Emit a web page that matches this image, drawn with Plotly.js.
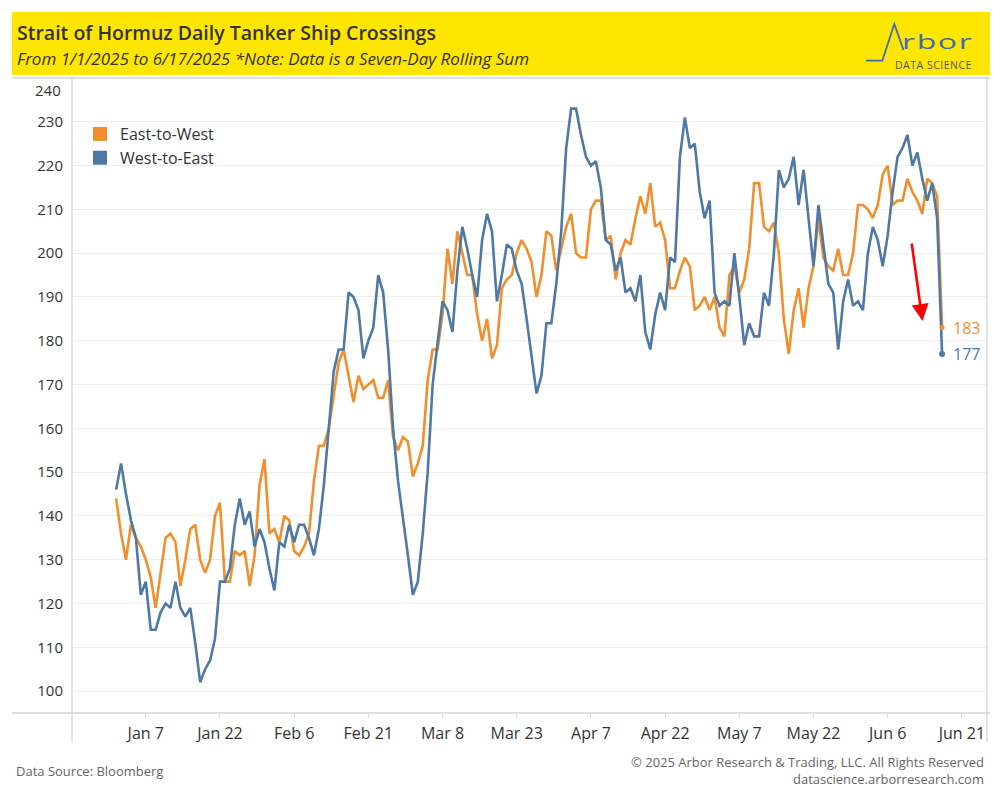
<!DOCTYPE html>
<html>
<head>
<meta charset="utf-8">
<script src="https://cdn.plot.ly/plotly-3.0.1.min.js"></script>
<style>
  html, body { margin: 0; padding: 0; background: #ffffff; }
  #chart { width: 1000px; height: 800px; }
</style>
</head>
<body>
<div id="chart"></div>
<script>
// ---------------- DATA ----------------
const startDate = '2025-01-01';
const seriesNames = ['East-to-West', 'West-to-East'];
const eastToWest = [
  144,136,130,138,135,133,130,126,119,127,
  135,136,134,124,130,137,138,130,127,130,
  140,143,125,125,132,131,132,124,131,147,
  153,136,137,134,140,139,132,131,133,136,
  148,156,156,160,167,175,178,172,166,172,
  169,170,171,167,167,171,158,155,158,157,
  149,152,156,171,178,178,186,201,193,205,
  200,195,195,186,180,185,176,179,192,194,
  195,200,203,201,198,190,195,205,204,196,
  201,206,209,200,199,199,210,212,212,203,
  204,194,200,203,202,208,213,209,216,206,
  207,203,192,192,196,199,197,187,188,190,
  187,190,183,181,195,197,191,194,201,216,
  216,206,205,207,200,185,177,187,192,183,
  192,197,208,199,197,196,201,195,195,200,
  211,211,210,208,211,218,220,211,212,212,
  217,214,212,209,217,216,213,183
];
const westToEast = [
  146,152,145,139,135,122,125,114,114,118,
  120,119,125,119,117,119,111,102,105,107,
  112,125,125,128,138,144,138,141,133,137,
  134,128,123,134,133,138,134,138,138,135,
  131,137,147,161,173,178,178,191,190,187,
  176,180,183,195,191,178,160,148,140,131,
  122,125,136,150,170,179,189,187,182,196,
  206,201,195,190,203,209,205,189,195,202,
  201,196,193,185,177,168,172,184,184,193,
  205,224,233,233,227,222,220,221,215,203,
  202,196,199,191,192,189,195,182,178,186,
  191,187,199,198,222,231,224,225,214,208,
  212,191,188,189,188,200,190,179,184,181,
  181,191,188,200,219,215,217,222,211,219,
  208,197,211,202,193,191,178,189,194,188,
  189,187,200,206,203,197,204,214,222,224,
  227,220,223,217,212,216,208,177
];
const xTickDates = ['2025-01-07','2025-01-22','2025-02-06','2025-02-21','2025-03-08','2025-03-23',
                    '2025-04-07','2025-04-22','2025-05-07','2025-05-22','2025-06-06','2025-06-21'];
const xTickLabels = ['Jan 7','Jan 22','Feb 6','Feb 21','Mar 8','Mar 23','Apr 7','Apr 22','May 7','May 22','Jun 6','Jun 21'];
const yTicks = [100,110,120,130,140,150,160,170,180,190,200,210,220,230,240];

// ---------------- STYLE ----------------
const ORANGE = '#F28E2B';
const BLUE = '#4E79A7';
const FONT = 'Open Sans, Noto Sans, sans-serif';
const W = 1000, H = 800;
const M = { l: 72, r: 13, t: 78, b: 87 };
const PW = W - M.l - M.r, PH = H - M.t - M.b;
const X = px => (px - M.l) / PW;      // pixel -> paper x
const Y = py => (H - M.b - py) / PH;  // pixel -> paper y

// dates for each daily value
function buildDates(n) {
  const out = [];
  const d0 = new Date(startDate + 'T00:00:00Z');
  for (let i = 0; i < n; i++) {
    const d = new Date(d0.getTime() + i * 86400000);
    out.push(d.toISOString().slice(0, 10));
  }
  return out;
}
const dates = buildDates(eastToWest.length);
const last = dates.length - 1;

const traces = [
  { x: dates, y: eastToWest, type: 'scatter', mode: 'lines', name: seriesNames[0],
    line: { color: ORANGE, width: 2.6 }, showlegend: false, hoverinfo: 'skip' },
  { x: dates, y: westToEast, type: 'scatter', mode: 'lines', name: seriesNames[1],
    line: { color: BLUE, width: 2.6 }, showlegend: false, hoverinfo: 'skip' },
  { x: [dates[last]], y: [eastToWest[last]], type: 'scatter', mode: 'markers',
    marker: { color: ORANGE, size: 5 }, showlegend: false, hoverinfo: 'skip' },
  { x: [dates[last]], y: [westToEast[last]], type: 'scatter', mode: 'markers',
    marker: { color: BLUE, size: 6 }, showlegend: false, hoverinfo: 'skip' },
  // legend entries (square swatches)
  { x: [null], y: [null], type: 'scatter', mode: 'markers', name: seriesNames[0],
    marker: { color: ORANGE, symbol: 'square', size: 14 }, showlegend: true },
  { x: [null], y: [null], type: 'scatter', mode: 'markers', name: seriesNames[1],
    marker: { color: BLUE, symbol: 'square', size: 14 }, showlegend: true }
];

const frameColor = '#d3d3d3';
const shapes = [
  // yellow banner
  { type: 'rect', xref: 'paper', yref: 'paper', x0: X(12), x1: X(990), y0: Y(75), y1: Y(12),
    fillcolor: '#FFE600', line: { width: 0 }, layer: 'below' },
  // frame lines
  { type: 'line', xref: 'paper', yref: 'paper', x0: X(12), x1: X(990), y0: Y(78), y1: Y(78),
    line: { color: frameColor, width: 1.5 } },
  { type: 'line', xref: 'paper', yref: 'paper', x0: X(12), x1: X(990), y0: Y(713), y1: Y(713),
    line: { color: frameColor, width: 1.5 } },
  { type: 'line', xref: 'paper', yref: 'paper', x0: X(72), x1: X(72), y0: Y(78), y1: Y(742),
    line: { color: frameColor, width: 1.2 } },
  { type: 'line', xref: 'paper', yref: 'paper', x0: X(987), x1: X(987), y0: Y(78), y1: Y(742),
    line: { color: frameColor, width: 1.2 } },
  // logo "A" stroke
  { type: 'path', xref: 'paper', yref: 'paper',
    path: 'M ' + X(866) + ' ' + Y(60.7) + ' L ' + X(882.3) + ' ' + Y(60.7) +
          ' L ' + X(894.3) + ' ' + Y(24) + ' L ' + X(903.5) + ' ' + Y(50),
    line: { color: '#3D6DB0', width: 1.8 } }
];

const annotations = [
  { xref: 'paper', yref: 'paper', x: X(15), y: Y(33), xanchor: 'left', yanchor: 'middle', showarrow: false,
    text: 'Strait of Hormuz Daily Tanker Ship Crossings',
    font: { family: FONT, size: 19.5, color: '#333333', weight: 600 } },
  { xref: 'paper', yref: 'paper', x: X(15), y: Y(58), xanchor: 'left', yanchor: 'middle', showarrow: false,
    text: '<i>From 1/1/2025 to 6/17/2025 *Note: Data is a Seven-Day Rolling Sum</i>',
    font: { family: FONT, size: 17, color: '#333333' } },
  { xref: 'paper', yref: 'paper', x: X(902), y: Y(57), xanchor: 'left', yanchor: 'bottom', showarrow: false,
    text: 'rbor', font: { family: FONT, size: 20, color: '#3D6DB0', weight: 400 } },
  { xref: 'paper', yref: 'paper', x: X(971), y: Y(56), xanchor: 'right', yanchor: 'top', showarrow: false,
    text: 'DATA SCIENCE', font: { family: FONT, size: 10.5, color: '#555555' } },
  // top y tick label (kept inside the frame, as in the original)
  { xref: 'paper', yref: 'y', x: X(63), y: yTicks[yTicks.length - 1], xanchor: 'right', yanchor: 'top',
    yshift: 0, showarrow: false, text: String(yTicks[yTicks.length - 1]),
    font: { family: FONT, size: 15, color: '#333333' } },
  // end labels
  { xref: 'x', yref: 'y', x: dates[last], y: eastToWest[last], xanchor: 'left', yanchor: 'middle',
    xshift: 9, showarrow: false, text: String(eastToWest[last]),
    font: { family: FONT, size: 16, color: ORANGE } },
  { xref: 'x', yref: 'y', x: dates[last], y: westToEast[last], xanchor: 'left', yanchor: 'middle',
    xshift: 9, showarrow: false, text: String(westToEast[last]),
    font: { family: FONT, size: 16, color: BLUE } },
  // red arrow
  { xref: 'paper', yref: 'paper', x: X(922.5), y: Y(321), ax: -11, ay: -79, axref: 'pixel', ayref: 'pixel',
    text: '', showarrow: true, arrowhead: 2, arrowsize: 1.3, arrowwidth: 2.6, arrowcolor: '#FF0000', standoff: 0 },
  // footer
  { xref: 'paper', yref: 'paper', x: X(14), y: Y(771), xanchor: 'left', yanchor: 'middle', showarrow: false,
    text: 'Data Source: Bloomberg', font: { family: FONT, size: 13, color: '#666666' } },
  { xref: 'paper', yref: 'paper', x: X(986), y: Y(762), xanchor: 'right', yanchor: 'middle', showarrow: false,
    text: '© 2025 Arbor Research &amp; Trading, LLC. All Rights Reserved', font: { family: FONT, size: 13, color: '#666666' } },
  { xref: 'paper', yref: 'paper', x: X(986), y: Y(779), xanchor: 'right', yanchor: 'middle', showarrow: false,
    text: 'datascience.arborresearch.com', font: { family: FONT, size: 13, color: '#666666' } }
];

const layout = {
  width: W, height: H,
  margin: M,
  paper_bgcolor: '#ffffff', plot_bgcolor: '#ffffff',
  font: { family: FONT, color: '#333333' },
  showlegend: true,
  legend: { x: X(80), y: Y(117), xanchor: 'left', yanchor: 'top', bgcolor: 'rgba(0,0,0,0)',
            font: { family: FONT, size: 16, color: '#333333' }, tracegroupgap: 0, itemwidth: 30 },
  xaxis: {
    type: 'date', range: ['2024-12-23 02:00', '2025-06-26 02:00'],
    tickmode: 'array', tickvals: xTickDates, ticktext: xTickLabels,
    showgrid: false, zeroline: false, showline: false,
    ticks: 'outside', ticklen: 4, tickcolor: '#dddddd', tickwidth: 1,
    tickfont: { family: FONT, size: 16, color: '#333333' }, ticklabelstandoff: 2,
    fixedrange: true
  },
  yaxis: {
    range: [95, 240],
    tickmode: 'array', tickvals: yTicks.slice(0, -1), ticktext: yTicks.slice(0, -1).map(String),
    showgrid: true, gridcolor: '#ededed', gridwidth: 1,
    zeroline: false, showline: false, ticks: '',
    tickfont: { family: FONT, size: 15, color: '#333333' }, ticklabelstandoff: 8,
    fixedrange: true
  },
  shapes: shapes,
  annotations: annotations
};

Plotly.newPlot('chart', traces, layout, { displayModeBar: false, staticPlot: true }).then(() => {
  document.querySelectorAll('.annotation-text').forEach(el => {
    if (el.textContent === 'rbor') {
      el.style.letterSpacing = '1px';
      el.style.transformBox = 'fill-box';
      el.style.transformOrigin = '0% 50%';
      el.style.transform = 'scaleX(1.6)';
    }
    if (el.textContent === 'DATA SCIENCE') el.style.letterSpacing = '0.5px';
  });
});
</script>
</body>
</html>
